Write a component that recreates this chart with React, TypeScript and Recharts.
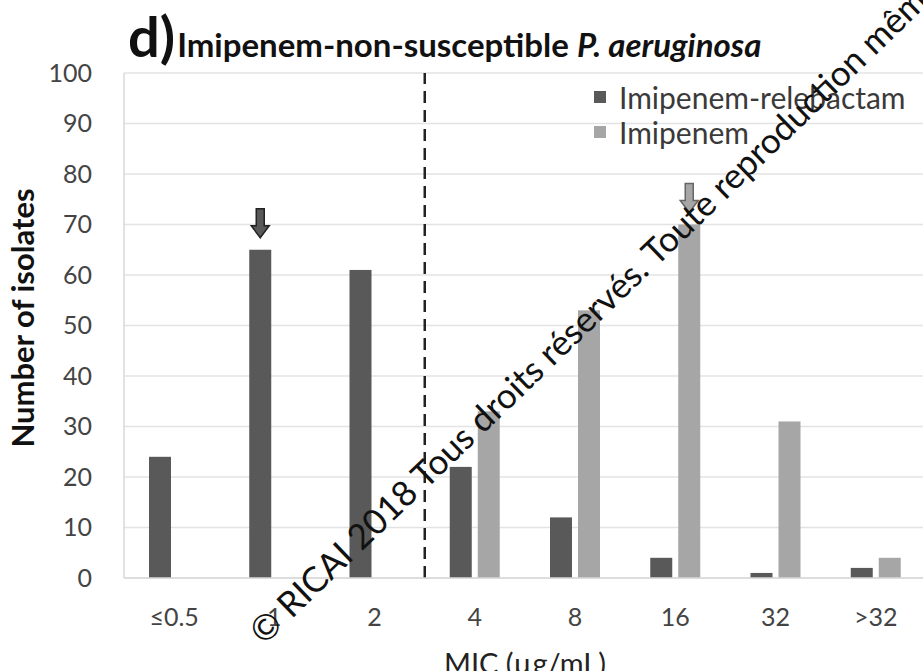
import React from 'react'
import {
  BarChart,
  Bar,
  XAxis,
  YAxis,
  CartesianGrid,
  ReferenceLine,
} from 'recharts'

const micLabels = ['≤0.5', '1', '2', '4', '8', '16', '32', '>32']
const relebactamCounts = [24, 65, 61, 22, 12, 4, 1, 2]
const imipenemCounts = [0, 0, 0, 33, 53, 70, 31, 4]
const yTicks = [0, 10, 20, 30, 40, 50, 60, 70, 80, 90, 100]
const seriesNames = ['Imipenem-relebactam', 'Imipenem']
const relebactamArrowAt = '1'
const imipenemArrowAt = '16'
const breakpointMic = '4'

const data = micLabels.map((mic, i) => ({
  mic,
  relebactam: relebactamCounts[i],
  imipenem: imipenemCounts[i],
}))

const FONT = 'Lato, "Open Sans", sans-serif'
const DARK = '#595959'
const LIGHT = '#a6a6a6'

function Arrow({ cx, bottom, fill, stroke }: { cx: number; bottom: number; fill: string; stroke: string }) {
  const top = bottom - 29
  const neck = bottom - 12
  const d = `M${cx - 4},${top} L${cx + 4},${top} L${cx + 4},${neck} L${cx + 9},${neck} L${cx},${bottom} L${cx - 9},${neck} L${cx - 4},${neck} Z`
  return <path d={d} fill={fill} stroke={stroke} strokeWidth={1.5} />
}

function barShape(arrowAt: string, arrowFill: string, arrowStroke: string) {
  return (props: any) => {
    const { x, y, width, height, fill, payload } = props
    return (
      <g>
        <rect x={x} y={y} width={width} height={Math.max(height, 0)} fill={fill} />
        {payload && payload.mic === arrowAt && (
          <Arrow cx={x + width / 2} bottom={y - 12} fill={arrowFill} stroke={arrowStroke} />
        )}
      </g>
    )
  }
}

export default function App() {
  const colors = [DARK, LIGHT]
  return (
    <div
      style={{
        position: 'fixed',
        left: 0,
        top: 0,
        width: 923,
        height: 671,
        overflow: 'hidden',
        background: '#fff',
        fontFamily: FONT,
      }}
    >
      <div style={{ position: 'absolute', left: 128, top: 6, whiteSpace: 'nowrap', color: '#111' }}>
        <span style={{ fontSize: 56, fontWeight: 700, lineHeight: '60px' }}>d)</span>
        <span style={{ fontSize: 33, fontWeight: 700, marginLeft: 2 }}>
          Imipenem-non-susceptible <i>P. aeruginosa</i>
        </span>
      </div>
      <div
        style={{
          position: 'absolute',
          left: 22,
          top: 318,
          transform: 'translate(-50%, -50%) rotate(-90deg)',
          whiteSpace: 'nowrap',
          fontSize: 31,
          fontWeight: 700,
          color: '#111',
        }}
      >
        Number of isolates
      </div>
      <div
        style={{
          position: 'absolute',
          left: 525,
          top: 645,
          transform: 'translateX(-50%)',
          whiteSpace: 'nowrap',
          fontSize: 29,
          color: '#222',
        }}
      >
        MIC (µg/mL)
      </div>
      <div style={{ position: 'absolute', left: 0, top: 0 }}>
        <BarChart
          width={940}
          height={700}
          data={data}
          margin={{ top: 73, right: 14, left: 0, bottom: 62 }}
          barGap={6}
          barSize={22}
        >
          <CartesianGrid vertical={false} stroke="#e3e3e3" strokeWidth={1.5} />
          <XAxis
            dataKey="mic"
            height={60}
            tickLine={false}
            tickSize={0}
            tickMargin={30}
            axisLine={{ stroke: '#d9d9d9', strokeWidth: 1.5 }}
            tick={{ fontSize: 25, fill: '#444', fontFamily: FONT }}
          />
          <YAxis
            width={124}
            domain={[0, 100]}
            ticks={yTicks}
            interval={0}
            tickLine={false}
            tickSize={0}
            tickMargin={32}
            axisLine={{ stroke: '#d9d9d9', strokeWidth: 1.5 }}
            tick={{ fontSize: 25, fill: '#444', fontFamily: FONT }}
          />
          <ReferenceLine
            x={breakpointMic}
            position="start"
            stroke="#222"
            strokeWidth={2.5}
            strokeDasharray="12 7"
          />
          <Bar
            dataKey="relebactam"
            name={seriesNames[0]}
            fill={DARK}
            isAnimationActive={false}
            shape={barShape(relebactamArrowAt, DARK, '#222')}
          />
          <Bar
            dataKey="imipenem"
            name={seriesNames[1]}
            fill={LIGHT}
            isAnimationActive={false}
            shape={barShape(imipenemArrowAt, LIGHT, '#666')}
          />
        </BarChart>
      </div>
      <div
        style={{
          position: 'absolute',
          left: 594,
          top: 79,
          fontSize: 30,
          color: '#3a3a3a',
        }}
      >
        {seriesNames.map((name, i) => (
          <div key={name} style={{ display: 'flex', alignItems: 'center', height: 35 }}>
            <span
              style={{ width: 12, height: 12, background: colors[i], marginRight: 13, display: 'inline-block' }}
            />
            <span>{name}</span>
          </div>
        ))}
      </div>
      <svg
        width={923}
        height={671}
        style={{ position: 'absolute', left: 0, top: 0, pointerEvents: 'none' }}
      >
        <text
          x={264}
          y={646}
          transform="rotate(-44 264 646)"
          fontFamily={FONT}
          fontSize={35}
          fill="#111"
        >
          © RICAI 2018 Tous droits réservés. Toute reproduction même
        </text>
      </svg>
    </div>
  )
}
